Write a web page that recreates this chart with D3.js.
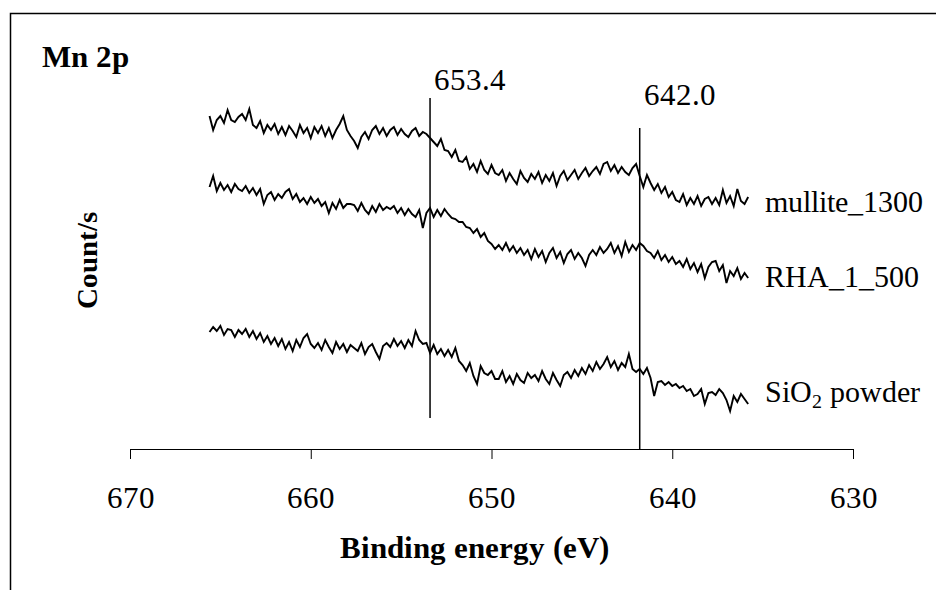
<!DOCTYPE html>
<html>
<head>
<meta charset="utf-8">
<script src="https://cdn.jsdelivr.net/npm/d3@7"></script>
<style>
  @font-face { font-family: "ChartSerif"; font-weight: normal; src: local("Liberation Serif"), local("LiberationSerif"), local("Tinos"); }
  @font-face { font-family: "ChartSerif"; font-weight: bold; src: local("Liberation Serif Bold"), local("LiberationSerif-Bold"), local("Tinos Bold"); }
</style>
</head>
<body style="margin:0">
<div id="viz-container"></div>
<script>
// Mn 2p XPS spectra, energy step 0.2 eV from 665.6 down to 635.8
const startEnergy = 665.6;
const stepEnergy = 0.2;

const mullite1300 = [
  384,370,380,384,377,390,380,378,383,386,
  380,391,375,372,379,367,375,370,376,366,
  373,365,374,369,363,375,367,372,362,373,
  367,374,364,372,362,370,376,384,370,364,
  359,352,363,368,361,370,374,366,372,364,
  370,373,365,371,366,363,369,372,364,368,
  366,362,358,354,361,350,349,343,350,339,
  338,343,331,336,328,339,330,326,335,327,
  325,330,319,327,321,316,329,322,318,326,
  321,328,317,325,319,327,314,324,329,320,
  325,330,321,327,332,324,329,333,326,336,
  338,329,335,327,333,328,325,332,336,324,
  313,325,317,310,316,307,313,303,308,300,
  298,306,295,302,296,304,294,301,303,296,
  302,295,310,297,304,294,311,299,296,303
];

const rha1500 = [
  313,324,309,317,310,315,308,316,311,309,
  314,307,312,305,311,296,305,308,300,306,
  302,308,311,301,306,298,302,296,303,297,
  301,294,298,287,297,291,300,292,296,296,
  295,289,297,290,286,294,288,296,290,293,
  291,294,287,292,285,291,286,283,290,272,
  287,292,283,290,284,291,286,282,281,278,
  278,273,272,267,271,263,267,259,256,251,
  255,250,257,249,254,247,252,245,250,241,
  251,243,249,238,247,252,242,248,237,246,
  250,241,247,242,234,245,250,245,253,247,
  251,257,247,254,244,258,248,255,250,257,
  254,249,247,242,249,240,245,238,243,236,
  239,233,241,231,237,228,236,222,233,238,
  239,229,235,217,229,224,232,221,227,222
];

const sio2Powder = [
  168,173,169,174,165,171,170,163,170,166,
  171,163,169,161,167,158,164,156,162,154,
  161,151,158,149,160,153,162,166,156,152,
  157,150,160,153,147,158,151,156,148,155,
  152,149,157,146,153,156,148,141,154,157,
  153,161,154,159,152,160,154,169,160,156,
  157,147,155,146,151,144,150,143,152,139,
  135,129,137,124,116,134,127,125,129,121,
  121,129,118,124,116,126,120,117,127,122,
  125,119,129,121,116,127,120,114,125,128,
  122,130,124,132,126,135,129,138,131,136,
  143,133,139,130,137,133,146,131,128,131,
  126,132,122,104,118,119,115,118,114,116,
  112,114,109,111,104,106,111,96,107,108,
  105,111,107,100,89,104,98,106,101,96
];

const seriesNames = ["mullite_1300", "RHA_1_500", "SiO2 powder"];
const xTicks = [670, 660, 650, 640, 630];
const peakEnergies = [653.4, 641.8];
const peakLabels = ["653.4", "642.0"];

const width = 936, height = 590;
const fontName = "ChartSerif, 'Liberation Serif', Tinos, serif";

let viz = d3.select("#viz-container")
  .append("svg")
    .attr("width", width)
    .attr("height", height)
    .attr("font-family", "Liberation Serif")
    .style("font-family", fontName)
  ;

// outer frame (only top and left edges show in the picture)
viz.append("path")
  .attr("d", "M10.5,590V13.5H936")
  .attr("fill", "none")
  .attr("stroke", "#000")
  .attr("stroke-width", 1.5);

let x = d3.scaleLinear().domain([670, 630]).range([130, 853]);
let y = d3.scaleLinear().domain([38, 438]).range([462, 62]);

let allSeries = [mullite1300, rha1500, sio2Powder];

let line = d3.line()
  .x((d, i) => x(startEnergy - stepEnergy * i))
  .y(d => y(d));

viz.selectAll(".trace").data(allSeries).enter()
  .append("path")
    .attr("class", "trace")
    .attr("d", line)
    .attr("fill", "none")
    .attr("stroke", "#000")
    .attr("stroke-width", 1.9)
    .attr("stroke-linejoin", "miter");

// x axis
let xAxis = d3.axisBottom(x)
  .tickValues(xTicks)
  .tickSize(10)
  .tickSizeOuter(0)
  .tickPadding(27);

let axisG = viz.append("g")
  .attr("transform", "translate(0,449)")
  .call(xAxis);
axisG.attr("font-family", "Liberation Serif").style("font-family", fontName);
axisG.select(".domain").attr("stroke", "#000");
axisG.selectAll(".tick line").attr("stroke", "#000");
axisG.selectAll(".tick text")
  .style("font-family", fontName)
  .style("font-size", "31px")
  .attr("fill", "#000");

// peak marker lines
let peakTop = [98, 128];
let peakBottom = [418, 449];
viz.selectAll(".peak").data(peakEnergies).enter()
  .append("line")
    .attr("class", "peak")
    .attr("x1", d => x(d))
    .attr("x2", d => x(d))
    .attr("y1", (d, i) => peakTop[i])
    .attr("y2", (d, i) => peakBottom[i])
    .attr("stroke", "#000")
    .attr("stroke-width", 1.5);

viz.selectAll(".peaklabel").data(peakLabels).enter()
  .append("text")
    .attr("class", "peaklabel")
    .attr("x", (d, i) => x(peakEnergies[i]) + 4)
    .attr("y", (d, i) => [90, 105][i])
    .style("font-family", fontName)
    .style("font-size", "31px")
    .text(d => d);

// labels at the right end of each trace
let labelY = [212, 287, 402];
let labels = viz.selectAll(".serieslabel").data(seriesNames).enter()
  .append("text")
    .attr("class", "serieslabel")
    .attr("x", 765)
    .attr("y", (d, i) => labelY[i])
    .style("font-family", fontName)
    .style("font-size", "30px");
labels.each(function(d){
  let t = d3.select(this);
  if(d == "SiO2 powder"){
    t.append("tspan").text("SiO");
    t.append("tspan").attr("dy", 6).style("font-size", "20px").text("2");
    t.append("tspan").attr("dy", -6).text(" powder");
  } else {
    t.text(d);
  }
});

viz.append("text")
  .attr("x", 474)
  .attr("y", 558)
  .attr("text-anchor", "middle")
  .style("font-family", fontName)
  .style("font-weight", "bold")
  .style("font-size", "31px")
  .text("Binding energy (eV)");

viz.append("text")
  .attr("transform", "translate(97,260) rotate(-90)")
  .attr("text-anchor", "middle")
  .style("font-family", fontName)
  .style("font-weight", "bold")
  .style("font-size", "29px")
  .text("Count/s");

viz.append("text")
  .attr("x", 42)
  .attr("y", 67)
  .style("font-family", fontName)
  .style("font-weight", "bold")
  .style("font-size", "31px")
  .text("Mn 2p");
</script>
</body>
</html>
